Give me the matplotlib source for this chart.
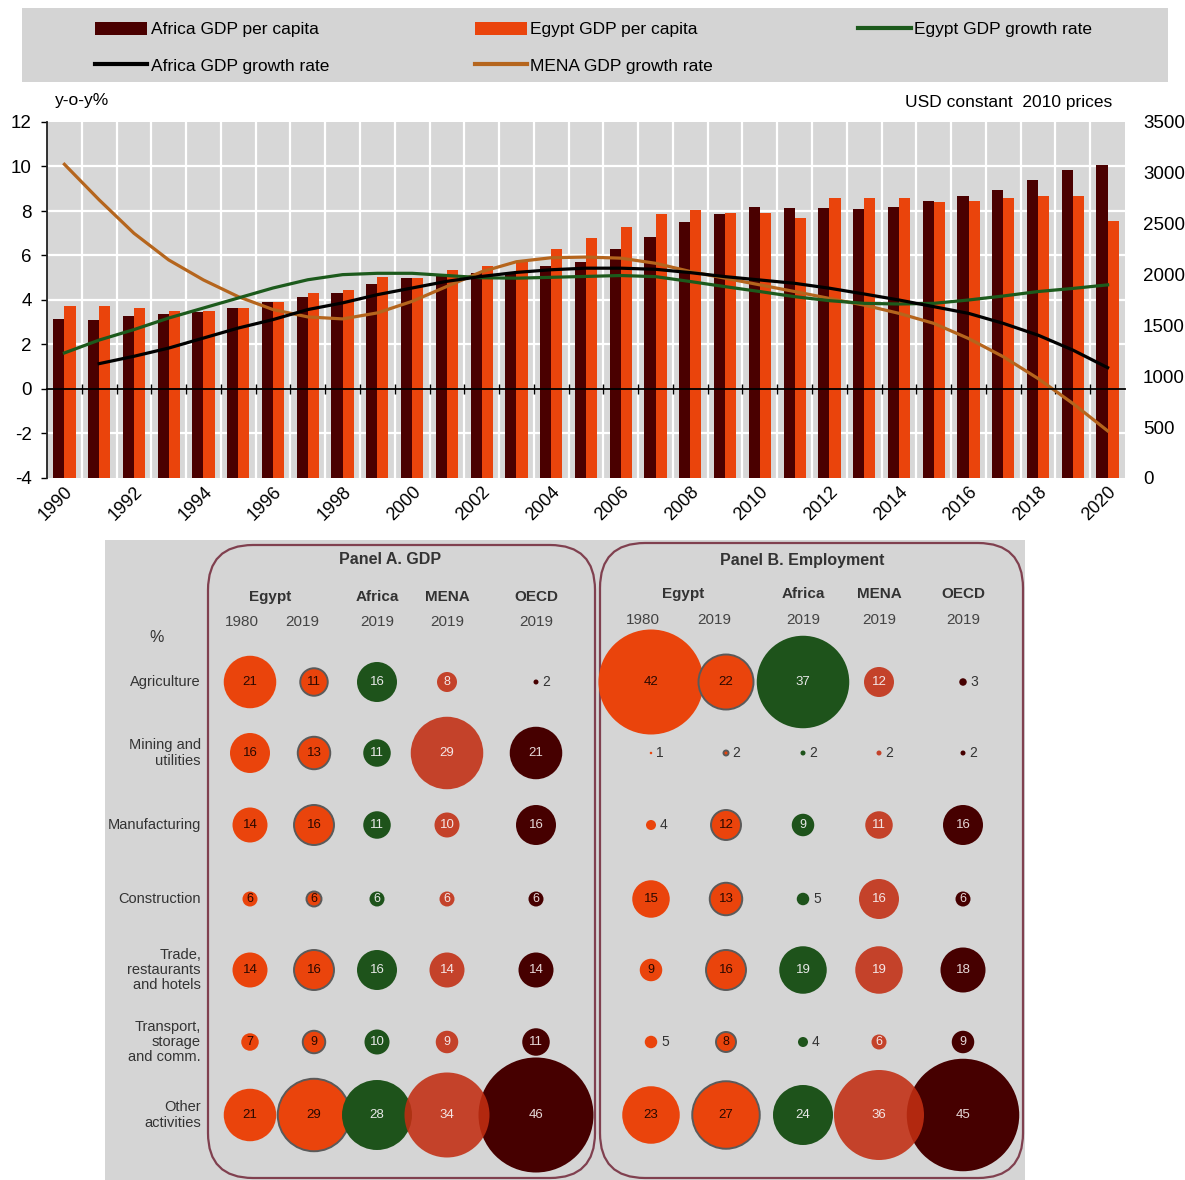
import numpy as np
import matplotlib
matplotlib.use("Agg")
import matplotlib.pyplot as plt
from matplotlib.patches import Patch, Circle, FancyBboxPatch, Rectangle
from matplotlib.lines import Line2D
from matplotlib.ticker import FixedLocator

plt.rcParams['font.family'] = ['Liberation Sans', 'DejaVu Sans']
plt.rcParams['axes.unicode_minus'] = False

# ---------------- data: top chart ----------------
years = list(range(1990, 2021))
africa_pc = [1565, 1558, 1597, 1612, 1630, 1671, 1730, 1777, 1815, 1905,
             1964, 2006, 2013, 2010, 2085, 2127, 2252, 2373, 2515, 2594,
             2669, 2653, 2653, 2646, 2669, 2728, 2774, 2833, 2932, 3030, 3075]
egypt_pc = [1695, 1695, 1668, 1639, 1639, 1675, 1733, 1819, 1849, 1980,
            1964, 2046, 2085, 2134, 2252, 2363, 2472, 2594, 2630, 2610,
            2610, 2554, 2751, 2751, 2751, 2709, 2728, 2751, 2768, 2768, 2528]
egypt_growth = [1.62, 2.2, 2.67, 3.19, 3.64, 4.09, 4.54, 4.91, 5.14, 5.2,
                5.2, 5.1, 5.0, 4.98, 5.02, 5.06, 5.1, 5.05, 4.83, 4.6,
                4.38, 4.15, 3.97, 3.85, 3.82, 3.85, 4.0, 4.18, 4.38, 4.52, 4.68]
africa_growth = [np.nan, 1.14, 1.47, 1.84, 2.29, 2.74, 3.12, 3.57, 3.87, 4.24,
                 4.54, 4.84, 5.06, 5.24, 5.36, 5.43, 5.43, 5.38, 5.23, 5.05,
                 4.9, 4.75, 4.53, 4.27, 4.0, 3.7, 3.4, 2.95, 2.42, 1.75, 0.96]
mena_growth = [10.1, 8.5, 7.0, 5.8, 4.9, 4.15, 3.57, 3.24, 3.15, 3.42,
               3.94, 4.61, 5.27, 5.72, 5.9, 5.93, 5.88, 5.65, 5.28, 4.98,
               4.68, 4.38, 4.07, 3.77, 3.4, 2.95, 2.27, 1.45, 0.47, -0.65, -1.88]
left_ticks = [-4, -2, 0, 2, 4, 6, 8, 10, 12]
right_ticks = [0, 500, 1000, 1500, 2000, 2500, 3000, 3500]
year_labels = list(range(1990, 2021, 2))

# ---------------- data: bubble panels ----------------
sectors = ["Agriculture", "Mining and\nutilities", "Manufacturing", "Construction",
           "Trade,\nrestaurants\nand hotels", "Transport,\nstorage\nand comm.",
           "Other\nactivities"]
gdp_egypt_1980 = [21, 16, 14, 6, 14, 7, 21]
gdp_egypt_2019 = [11, 13, 16, 6, 16, 9, 29]
gdp_africa_2019 = [16, 11, 11, 6, 16, 10, 28]
gdp_mena_2019 = [8, 29, 10, 6, 14, 9, 34]
gdp_oecd_2019 = [2, 21, 16, 6, 14, 11, 46]
emp_egypt_1980 = [42, 1, 4, 15, 9, 5, 23]
emp_egypt_2019 = [22, 2, 12, 13, 16, 8, 27]
emp_africa_2019 = [37, 2, 9, 5, 19, 4, 24]
emp_mena_2019 = [12, 2, 11, 16, 19, 6, 36]
emp_oecd_2019 = [3, 2, 16, 6, 18, 9, 45]

# ---------------- colours ----------------
C_AFR_PC = "#4a0000"
C_EGY_PC = "#ea440c"
C_EGY_G = "#1c5a1c"
C_AFR_G = "#000000"
C_MENA_G = "#b5651d"
C_GREEN = "#1e531b"
C_MENA_B = "#c22e12"
C_OECD_B = "#460000"

W, H = 1185, 1180
fig = plt.figure(figsize=(W / 100, H / 100), dpi=100)
fig.patch.set_facecolor("white")

def fx(px):
    return px / W

def fy(py):
    return 1 - py / H

# ---------------- legend box ----------------
fig.patches.append(Rectangle((fx(22), fy(82)), fx(1168) - fx(22), fy(8) - fy(82),
                             transform=fig.transFigure, facecolor="#d4d4d4",
                             edgecolor="none", zorder=0))
handles = [Patch(facecolor=C_AFR_PC, label="Africa GDP per capita"),
           Line2D([], [], color=C_AFR_G, lw=3, label="Africa GDP growth rate"),
           Patch(facecolor=C_EGY_PC, label="Egypt GDP per capita"),
           Line2D([], [], color=C_MENA_G, lw=3, label="MENA GDP growth rate"),
           Line2D([], [], color=C_EGY_G, lw=3, label="Egypt GDP growth rate")]
fig.legend(handles=handles, ncol=3, loc="upper left",
           bbox_to_anchor=(fx(95), fy(80), fx(1092) - fx(95), fy(22) - fy(80)),
           mode="expand", frameon=False, fontsize=12.5, handlelength=3.0,
           handleheight=0.75, handletextpad=0.2, borderpad=0, borderaxespad=0,
           labelspacing=1.2)

# ---------------- top chart ----------------
axb = fig.add_axes([fx(47), fy(478), fx(1125) - fx(47), fy(122) - fy(478)])
axb.set_facecolor("#d7d7d7")
bw = 0.32
x = np.array(years)
axb.bar(x - bw / 2, africa_pc, width=bw, color=C_AFR_PC, zorder=3)
axb.bar(x + bw / 2, egypt_pc, width=bw, color=C_EGY_PC, zorder=3)
axb.set_xlim(1989.5, 2020.5)
axb.set_ylim(0, 3500)

axl = axb.twinx()

axb.yaxis.tick_right()
axb.set_yticks(right_ticks)
axb.tick_params(axis="y", which="major", length=0, pad=13, labelsize=13.5,
                left=False, labelleft=False, right=False, labelright=True)
for lab in axb.get_yticklabels():
    lab.set_horizontalalignment("left")
# horizontal grid at left-axis ticks, vertical grid between year groups
axb.yaxis.set_minor_locator(FixedLocator([(v + 4) * 3500 / 16 for v in left_ticks]))
axb.xaxis.set_minor_locator(FixedLocator(np.arange(1990.5, 2020.5, 1)))
axb.grid(False)
axb.grid(which="minor", axis="both", color="white", lw=1.6, zorder=1)
axb.set_axisbelow(True)
axb.tick_params(axis="y", which="minor", length=0, left=False, right=False)
axb.set_xticks(year_labels)
axb.set_xticklabels([str(v) for v in year_labels], rotation=45, ha="right",
                    rotation_mode="anchor", fontsize=13)
axb.tick_params(axis="x", which="both", length=0, pad=4)
for s in axb.spines.values():
    s.set_visible(False)

axl.yaxis.tick_left()
axl.set_ylim(-4, 12)
axl.set_yticks(left_ticks)
axl.tick_params(axis="y", length=4, width=1, pad=7, labelsize=13.5, direction="out",
                right=False, labelright=False, left=True, labelleft=True)
axl.plot(x, mena_growth, color=C_MENA_G, lw=2.3, zorder=4)
axl.plot(x, egypt_growth, color=C_EGY_G, lw=2.3, zorder=5)
axl.plot(x, africa_growth, color=C_AFR_G, lw=2.3, zorder=6)
axl.xaxis.set_visible(True)
axl.spines["bottom"].set_position(("data", 0))
axl.spines["bottom"].set_linewidth(1.3)
axl.spines["bottom"].set_zorder(7)
axl.tick_params(axis="x", which="major", length=0, labelbottom=False)
axl.tick_params(axis="x", which="minor", length=7, width=1, direction="inout")
axl.spines["top"].set_visible(False)
axl.spines["right"].set_visible(False)
axl.spines["left"].set_linewidth(1.3)
axl.spines["left"].set_color("#222222")

fig.text(fx(55), fy(101), "y-o-y%", fontsize=12.5, va="center", ha="left")
fig.text(fx(1112), fy(103), "USD constant  2010 prices", fontsize=12.5,
         va="center", ha="right")

# ---------------- bubble panels ----------------
axp = fig.add_axes([fx(105), fy(1180), fx(1025) - fx(105), fy(540) - fy(1180)])
axp.set_xlim(105, 1025)
axp.set_ylim(1180, 540)
axp.set_facecolor("#d5d5d5")
axp.set_xticks([])
axp.set_yticks([])
for s in axp.spines.values():
    s.set_visible(False)

# layout (pixel-like coordinates in this axes)
row_y = [682, 753, 825, 899, 970, 1042, 1115]
colx_a = [250, 314, 377, 447, 536]
colx_b = [651, 726, 803, 879, 963]
RSCALE = 1.25

border = "#80404f"
for (x0, x1, y0) in [(208, 595, 545), (600, 1023, 543)]:
    axp.add_patch(FancyBboxPatch((x0 + 45, y0 + 45), (x1 - x0) - 90, (1178 - y0) - 90,
                                 boxstyle="round,pad=45", facecolor="none",
                                 edgecolor=border, lw=1.6, zorder=1))

label_font = dict(fontsize=10.5, color="#333333")
for name, yy in zip(sectors, row_y):
    axp.text(201, yy, name, ha="right", va="center", linespacing=1.1, **label_font)
axp.text(157, 637, "%", ha="center", va="center", fontsize=11.5, color="#333333")

axp.text(390, 560, "Panel A. GDP", ha="center", va="center", fontsize=11.5,
         fontweight="bold", color="#333333")
axp.text(802, 560, "Panel B. Employment", ha="center", va="center", fontsize=11.5,
         fontweight="bold", color="#333333")

def headers(colx, yh, yy, egx):
    axp.text(egx, yh, "Egypt", ha="center", va="center", fontsize=11,
             fontweight="bold", color="#333333")
    for cx, nm in zip(colx[2:], ["Africa", "MENA", "OECD"]):
        axp.text(cx, yh, nm, ha="center", va="center", fontsize=11,
                 fontweight="bold", color="#333333")
    for i, (cx, yr) in enumerate(zip(colx, ["1980", "2019", "2019", "2019", "2019"])):
        off = -8 if i == 0 else (-12 if i == 1 else 0)
        axp.text(cx + off, yy, yr, ha="center", va="center", fontsize=11,
                 color="#444444")

headers(colx_a, 597, 622, 270)
headers(colx_b, 594, 620, 683)

col_styles = [
    dict(fc=C_EGY_PC, ec="none", txt="#2a0800", alpha=1.0),
    dict(fc=C_EGY_PC, ec="#5a5a5a", txt="#2a0800", alpha=1.0),
    dict(fc=C_GREEN, ec="none", txt="#e8e8e8", alpha=1.0),
    dict(fc=C_MENA_B, ec="none", txt="#f4e6e6", alpha=0.88),
    dict(fc=C_OECD_B, ec="none", txt="#e6d8d8", alpha=1.0),
]

def draw_panel(colx, cols):
    order = [0, 1, 2, 4, 3]  # MENA drawn above OECD
    for ci in order:
        vals = cols[ci]
        st = col_styles[ci]
        for ri, v in enumerate(vals):
            r = RSCALE * v
            cx, cy = colx[ci], row_y[ri]
            axp.add_patch(Circle((cx, cy), r, facecolor=st["fc"], alpha=st["alpha"],
                                 edgecolor=st["ec"], lw=1.4 if st["ec"] != "none" else 0,
                                 zorder=3 + ci * 0.1 + (0.5 if ci == 3 else 0)))
            if v <= 5:
                axp.text(cx + r + 4, cy, str(v), ha="left", va="center",
                         fontsize=10, color="#333333", zorder=6)
            else:
                axp.text(cx, cy, str(v), ha="center", va="center",
                         fontsize=9.5 if v >= 10 else 9, color=st["txt"], zorder=6)

draw_panel(colx_a, [gdp_egypt_1980, gdp_egypt_2019, gdp_africa_2019,
                    gdp_mena_2019, gdp_oecd_2019])
draw_panel(colx_b, [emp_egypt_1980, emp_egypt_2019, emp_africa_2019,
                    emp_mena_2019, emp_oecd_2019])

fig.savefig("out.png", dpi=100, facecolor="white")
